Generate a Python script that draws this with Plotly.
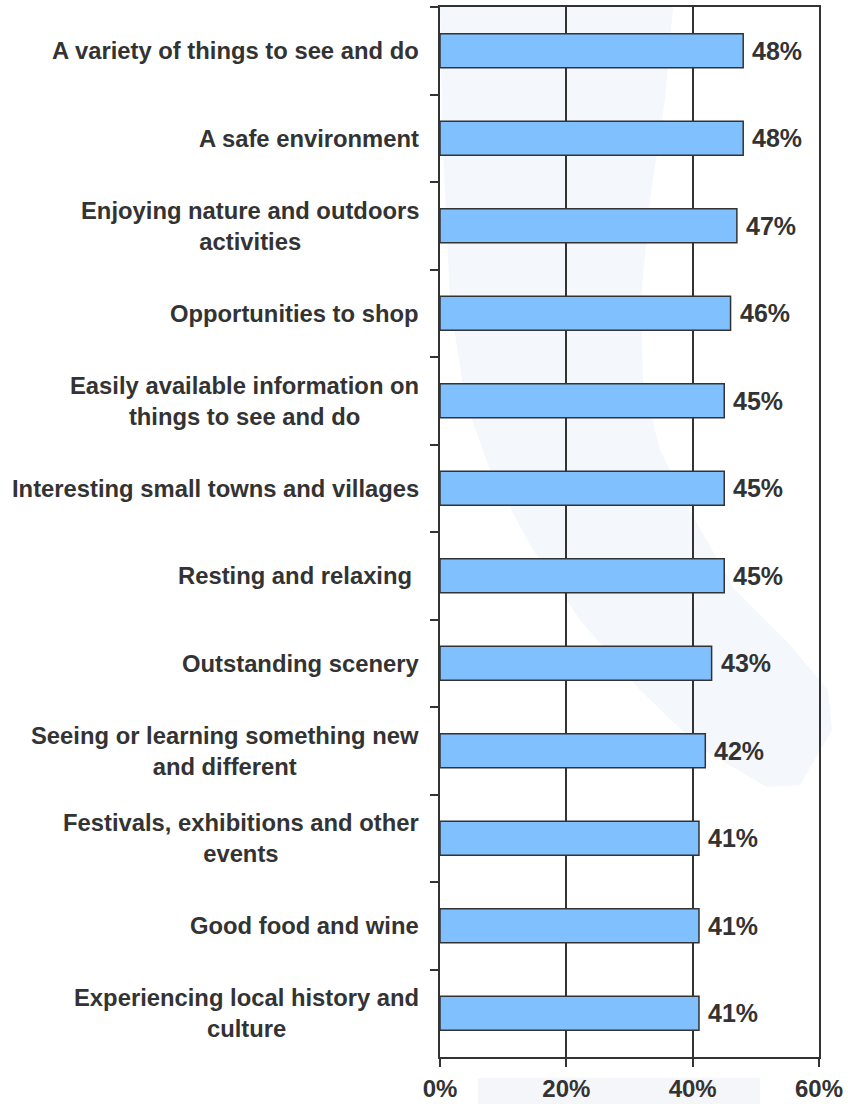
import plotly.graph_objects as go

# Survey results: share of respondents rating each factor as important
categories = [
    "A variety of things to see and do",
    "A safe environment",
    "Enjoying nature and outdoors<br>activities",
    "Opportunities to shop",
    "Easily available information on<br>things to see and do",
    "Interesting small towns and villages",
    "Resting and relaxing ",
    "Outstanding scenery",
    "Seeing or learning something new<br>and different",
    "Festivals, exhibitions and other<br>events",
    "Good food and wine",
    "Experiencing local history and<br>culture",
]
values = [48, 48, 47, 46, 45, 45, 45, 43, 42, 41, 41, 41]
x_ticks = [0, 20, 40, 60]
x_tick_labels = ["0%", "20%", "40%", "60%"]

INK = "#333333"
FONT = "Liberation Sans"

fig = go.Figure()
fig.add_trace(go.Bar(
    x=values,
    y=categories,
    orientation="h",
    width=0.39,
    marker=dict(color="#80c0ff", line=dict(color=INK, width=1.5)),
    hoverinfo="skip",
))

# value labels at the end of each bar
for cat, v in zip(categories, values):
    fig.add_annotation(
        x=v, y=cat, xref="x", yref="y", text=f"{v}%",
        xanchor="left", yanchor="middle", xshift=7, showarrow=False,
        font=dict(family=FONT, size=25, color=INK, weight="bold"),
    )

# category labels, centred line by line, right-aligned against the axis
for cat in categories:
    fig.add_annotation(
        x=0, y=cat, xref="paper", yref="y", text=cat,
        xanchor="right", yanchor="middle", xshift=-19, align="center",
        showarrow=False,
        font=dict(family=FONT, size=23.8, color=INK, weight="bold"),
    )

# faint swoosh watermark behind the plot (pixel positions -> paper coords)
def px(x, y):
    return (x - 440) / 379, (1057 - y) / 1050

right_edge = [(673, 7), (665, 100), (650, 200), (641, 300), (643, 380),
              (660, 450), (695, 520), (735, 590), (790, 645), (828, 690), (832, 730)]
left_edge = [(800, 785), (767, 787), (700, 748), (640, 690), (580, 620),
             (530, 545), (490, 470), (465, 400), (450, 300), (443, 150), (440, 7)]
pts = [px(a, b) for a, b in right_edge + left_edge]
path = "M " + " L ".join(f"{a:.4f},{b:.4f}" for a, b in pts) + " Z"
fig.add_shape(type="path", path=path, xref="paper", yref="paper",
              fillcolor="#f4f7fc", line=dict(width=0), layer="below")
x0, y0 = px(478, 1078)
x1, y1 = px(760, 1104)
fig.add_shape(type="rect", x0=x0, x1=x1, y0=y1, y1=y0, xref="paper", yref="paper",
              fillcolor="#f4f6fa", line=dict(width=0), layer="below")

fig.update_layout(
    width=848, height=1104,
    margin=dict(l=440, r=29, t=7, b=47),
    plot_bgcolor="rgba(0,0,0,0)",
    paper_bgcolor="white",
    showlegend=False,
)
fig.update_xaxes(
    range=[0, 60], tickvals=x_ticks, ticktext=x_tick_labels,
    showgrid=True, gridcolor=INK, gridwidth=1.5,
    showline=True, linecolor=INK, linewidth=1.5, mirror=True,
    ticks="outside", ticklen=8, tickcolor=INK, tickwidth=1.5,
    ticklabelstandoff=1, zeroline=False, automargin=False,
    tickfont=dict(family=FONT, size=24, color=INK, weight="bold"),
)
fig.update_yaxes(
    type="category", autorange="reversed", tickson="boundaries",
    showticklabels=False, showgrid=False, automargin=False,
    showline=True, linecolor=INK, linewidth=1.5, mirror=True,
    ticks="outside", ticklen=8, tickcolor=INK, tickwidth=1.5,
)

fig.write_html("out.html")
